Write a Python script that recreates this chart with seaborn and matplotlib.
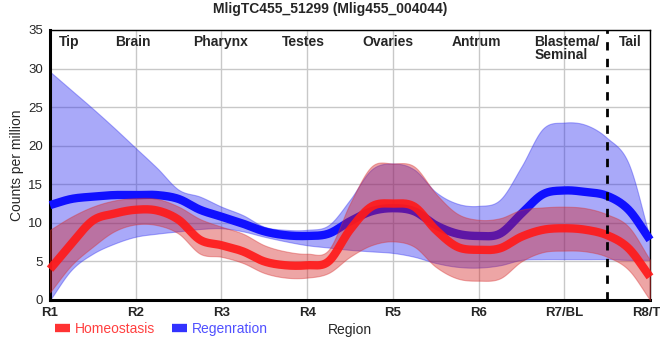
import numpy as np
import pandas as pd
import matplotlib
matplotlib.use("Agg")
import matplotlib.pyplot as plt
import seaborn as sns
from matplotlib.lines import Line2D

# ---- data (at quarter-region steps) ----
region_ticks = ["R1", "R2", "R3", "R4", "R5", "R6", "R7/BL", "R8/TL"]
region_names = ["Tip", "Brain", "Pharynx", "Testes", "Ovaries", "Antrum", "Blastema/\nSeminal", "Tail"]
name_pos = [1.22, 1.97, 2.99, 3.96, 4.94, 5.98, 6.65, 7.77]
sample_pos = [1, 1.25, 1.5, 1.75, 2, 2.25, 2.5, 2.75, 3, 3.25, 3.5, 3.75, 4, 4.25, 4.5,
              4.75, 5, 5.25, 5.5, 5.75, 6, 6.25, 6.5, 6.75, 7, 7.25, 7.5, 7.75, 8]

homeo_mean = [4.0, 7.3, 10.3, 11.2, 11.7, 11.6, 10.4, 7.8, 7.1, 6.3, 5.0, 4.5, 4.5, 5.0, 9.1,
              12.1, 12.5, 12.1, 9.1, 6.9, 6.5, 6.7, 8.2, 9.1, 9.3, 9.1, 8.4, 6.7, 3.0]
homeo_upper = [9.1, 10.8, 12.1, 12.9, 13.2, 13.1, 12.1, 10.5, 9.5, 8.6, 7.1, 6.3, 6.0, 6.5, 12.5,
               17.3, 17.7, 17.3, 13.8, 11.2, 10.4, 10.6, 11.7, 12.0, 12.1, 11.9, 11.1, 9.5, 5.2]
homeo_lower = [1.0, 4.5, 6.9, 8.9, 9.8, 9.7, 8.6, 6.0, 5.6, 4.8, 3.5, 2.9, 2.9, 3.5, 5.6,
               7.1, 7.6, 6.9, 4.3, 2.8, 2.5, 2.8, 5.0, 6.2, 6.4, 6.3, 5.6, 3.9, 0.0]

regen_mean = [12.3, 13.1, 13.4, 13.6, 13.6, 13.6, 13.1, 11.7, 10.8, 9.9, 8.9, 8.4, 8.3, 8.6, 10.2,
              11.5, 11.9, 11.5, 9.7, 8.6, 8.3, 8.6, 11.2, 13.7, 14.2, 14.0, 13.5, 11.7, 7.8]
regen_upper = [29.6, 27.2, 24.8, 22.3, 19.7, 17.1, 14.3, 13.4, 12.1, 11.0, 9.5, 9.1, 9.1, 9.7, 13.0,
               16.9, 17.7, 16.9, 14.0, 12.5, 12.2, 13.0, 17.3, 22.2, 23.0, 22.7, 21.0, 17.7, 8.0]
regen_lower = [0.0, 3.9, 6.0, 7.3, 8.2, 8.6, 8.9, 9.2, 9.3, 8.9, 8.2, 7.6, 7.1, 6.8, 6.5,
               6.3, 6.1, 5.6, 4.8, 4.3, 4.2, 4.5, 5.2, 5.3, 5.3, 5.3, 5.3, 5.2, 5.2]


def smooth(x, y, xs):
    """Cubic Hermite (Catmull-Rom tangents) rendering of the sampled series."""
    x = np.asarray(x, float)
    y = np.asarray(y, float)
    h = np.diff(x)
    m = np.empty_like(y)
    m[1:-1] = (y[2:] - y[:-2]) / (x[2:] - x[:-2])
    m[0] = (y[1] - y[0]) / h[0]
    m[-1] = (y[-1] - y[-2]) / h[-1]
    idx = np.clip(np.searchsorted(x, xs) - 1, 0, len(x) - 2)
    t = (xs - x[idx]) / h[idx]
    h00 = 2 * t**3 - 3 * t**2 + 1
    h10 = t**3 - 2 * t**2 + t
    h01 = -2 * t**3 + 3 * t**2
    h11 = t**3 - t**2
    return h00 * y[idx] + h10 * h[idx] * m[idx] + h01 * y[idx + 1] + h11 * h[idx] * m[idx + 1]


xs = np.linspace(1, 8, 800)
curves = {}
for key, arr in [("hm", homeo_mean), ("hu", homeo_upper), ("hl", homeo_lower),
                 ("rm", regen_mean), ("ru", regen_upper), ("rl", regen_lower)]:
    curves[key] = np.clip(smooth(sample_pos, arr, xs), 0, None)

df = pd.DataFrame({
    "x": np.concatenate([xs, xs]),
    "y": np.concatenate([curves["rm"], curves["hm"]]),
    "group": ["Regenration"] * len(xs) + ["Homeostasis"] * len(xs),
})

sns.set_theme(style="white")
plt.rcParams["font.family"] = ["Liberation Sans", "DejaVu Sans"]

fig = plt.figure(figsize=(6.6, 3.6), dpi=100)
ax = fig.add_axes([50 / 660, 60 / 360, 600 / 660, 270 / 360])

blue = "#1010ff"
red = "#ff1a1a"

# regeneration band + line
ax.fill_between(xs, curves["rl"], curves["ru"], color="#2828f0", alpha=0.4, lw=0.8,
                edgecolor=(0.2, 0.2, 0.95, 0.55), zorder=2)
sns.lineplot(data=df[df.group == "Regenration"], x="x", y="y", color=blue, lw=6,
             ax=ax, zorder=3, sort=False, estimator=None, solid_capstyle="butt", clip_on=False)
# homeostasis band + line
ax.fill_between(xs, curves["hl"], curves["hu"], color="#d42020", alpha=0.4, lw=0.8,
                edgecolor=(0.85, 0.2, 0.2, 0.55), zorder=4)
sns.lineplot(data=df[df.group == "Homeostasis"], x="x", y="y", color=red, lw=6,
             ax=ax, zorder=5, sort=False, estimator=None, alpha=0.92,
             solid_capstyle="butt", clip_on=False)

ax.axvline(7.5, color="black", ls=(0, (3, 3)), lw=2, zorder=6)

ax.set_xlim(1, 8)
ax.set_ylim(0, 35)
ax.set_xticks(range(1, 9))
ax.set_xticklabels(region_ticks, fontsize=9.5, fontweight="bold")
ax.set_yticks(range(0, 36, 5))
ax.tick_params(axis="y", labelsize=9.5, length=3, pad=2)
ax.tick_params(axis="x", length=3, pad=2)
ax.grid(True, color="#c8c8c8", lw=1, zorder=0)
ax.set_axisbelow(True)
ax.set_xlabel("")
ax.set_ylabel("Counts per million", fontsize=10, labelpad=3)
if ax.get_legend() is not None:
    ax.get_legend().remove()

for side in ["left", "bottom"]:
    ax.spines[side].set_linewidth(2.2)
    ax.spines[side].set_color("black")
for side in ["right", "top"]:
    ax.spines[side].set_linewidth(1.0)
    ax.spines[side].set_color("black")

for name, pos in zip(region_names, name_pos):
    ha = "left" if "\n" in name else "center"
    ax.text(pos, 34.4, name, ha=ha, va="top", fontsize=10, fontweight="bold",
            linespacing=0.95, zorder=7)

fig.text(0.5, 0.975, "MligTC455_51299 (Mlig455_004044)", ha="center", va="center",
         fontsize=10, fontweight="bold")

handles = [Line2D([0], [0], color="#ff3333", lw=6, solid_capstyle="butt"),
           Line2D([0], [0], color="#3333ff", lw=6, solid_capstyle="butt")]
leg = fig.legend(handles, ["Homeostasis", "Regenration"], loc="center left",
                 bbox_to_anchor=(55 / 660, 31 / 360), ncol=2, frameon=False,
                 fontsize=10, handlelength=1.1, handletextpad=0.35, columnspacing=1.2,
                 borderaxespad=0, borderpad=0)
for txt, col in zip(leg.get_texts(), ["#ff4040", "#5050ff"]):
    txt.set_color(col)
fig.text(350 / 660, 30 / 360, "Region", ha="center", va="center", fontsize=10)

fig.savefig("out.png", dpi=100)
